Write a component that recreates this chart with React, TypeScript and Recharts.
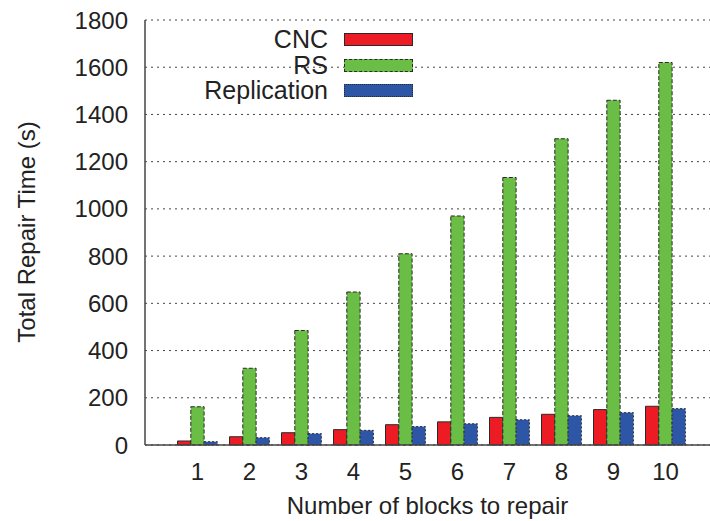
import React from 'react';
import { BarChart, Bar, XAxis, YAxis, CartesianGrid, Label } from 'recharts';

const categories = ['1', '2', '3', '4', '5', '6', '7', '8', '9', '10'];
const cnc = [17, 35, 52, 65, 86, 98, 117, 130, 150, 164];
const rs = [162, 325, 485, 648, 810, 970, 1133, 1297, 1460, 1620];
const replication = [14, 31, 48, 62, 78, 90, 107, 124, 137, 154];
const yTicks = [0, 200, 400, 600, 800, 1000, 1200, 1400, 1600, 1800];

const series = [
  { key: 'cnc', name: 'CNC', fill: '#ed1c24', dash: undefined },
  { key: 'rs', name: 'RS', fill: '#6abd45', dash: '4 2' },
  { key: 'replication', name: 'Replication', fill: '#2e56a6', dash: '2 2' },
];

const font = '"Liberation Sans", Arial, sans-serif';

const data = categories.map((n, i) => ({
  n,
  cnc: cnc[i],
  rs: rs[i],
  replication: replication[i],
}));

const pad = { left: 26.5, right: 18.5 };

export default function App() {
  return (
    <div style={{ position: 'absolute', left: 0, top: 0, width: 710, height: 521, fontFamily: font }}>
      <BarChart
        width={710}
        height={521}
        data={data}
        margin={{ top: 20, right: 0, bottom: 0, left: 0 }}
        barGap={0}
        barSize={13.3}
      >
        <CartesianGrid vertical={false} stroke="#444" strokeDasharray="2 4" />
        <XAxis
          dataKey="n"
          height={76}
          interval={0}
          padding={pad}
          axisLine={{ stroke: '#444', strokeWidth: 1.5 }}
          tickLine={false}
          tickSize={0}
          tickMargin={18}
          tick={{ fontSize: 24, fill: '#222', fontFamily: font }}
        >
          <Label
            value="Number of blocks to repair"
            position="insideBottom"
            offset={7}
            style={{ fontSize: 24, fill: '#222', fontFamily: font }}
          />
        </XAxis>
        <XAxis
          xAxisId="top"
          orientation="top"
          dataKey="n"
          height={0}
          mirror
          interval={0}
          padding={pad}
          tick={false}
          tickSize={7}
          axisLine={{ stroke: '#444', strokeWidth: 1.5 }}
          tickLine={{ stroke: '#666', strokeWidth: 1.5 }}
        />
        <YAxis
          width={145}
          domain={[0, 1800]}
          ticks={yTicks}
          interval={0}
          axisLine={{ stroke: '#444', strokeWidth: 1.5 }}
          tickLine={false}
          tickSize={0}
          tickMargin={17}
          tick={{ fontSize: 24, fill: '#222', fontFamily: font }}
        >
          <Label
            content={() => (
              <text
                x={26}
                y={232}
                transform="rotate(-90 26 232)"
                textAnchor="middle"
                dominantBaseline="central"
                style={{ fontSize: 24, fill: '#222', fontFamily: font }}
              >
                Total Repair Time (s)
              </text>
            )}
          />
        </YAxis>
        <YAxis
          yAxisId="mirror"
          width={0}
          mirror
          domain={[0, 1800]}
          ticks={yTicks}
          interval={0}
          tick={false}
          tickSize={5}
          axisLine={false}
          tickLine={{ stroke: '#555', strokeWidth: 1.5 }}
        />
        {series.map((s) => (
          <Bar
            key={s.key}
            dataKey={s.key}
            name={s.name}
            fill={s.fill}
            stroke="#2a2a2a"
            strokeWidth={1}
            strokeDasharray={s.dash}
            isAnimationActive={false}
          />
        ))}
      </BarChart>
      <div style={{ position: 'absolute', left: 100, top: 27 }}>
        {series.map((s) => (
          <div key={s.key} style={{ display: 'flex', alignItems: 'center', height: 25.5 }}>
            <span style={{ width: 228, textAlign: 'right', fontSize: 25, color: '#222', lineHeight: '25px' }}>
              {s.name}
            </span>
            <span
              style={{
                marginLeft: 16,
                width: 67,
                height: 11,
                background: s.fill,
                border: `1px ${s.dash ? (s.dash === '2 2' ? 'dotted' : 'dashed') : 'solid'} #2a2a2a`,
              }}
            />
          </div>
        ))}
      </div>
    </div>
  );
}
